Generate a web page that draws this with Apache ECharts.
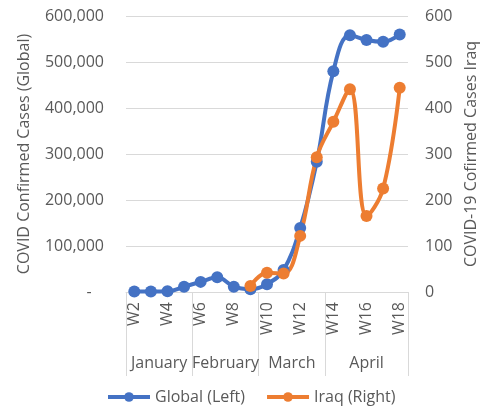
<!DOCTYPE html>
<html>
<head>
<meta charset="utf-8">
<script src="https://cdn.jsdelivr.net/npm/echarts@6/dist/echarts.min.js"></script>
<style>
  html, body { margin: 0; padding: 0; background: #fff; }
  #chart { width: 481px; height: 411px; }
</style>
</head>
<body>
<div id="chart"></div>
<script>
var weeks = ['W2', 'W3', 'W4', 'W5', 'W6', 'W7', 'W8', 'W9', 'W10', 'W11', 'W12', 'W13', 'W14', 'W15', 'W16', 'W17', 'W18'];
var months = ['January', 'February', 'March', 'April'];
var monthSpans = [4, 4, 4, 5];
var globalCases = [1000, 1000, 1500, 11500, 22000, 32000, 11500, 6000, 17000, 48000, 139000, 283000, 480000, 558000, 548000, 544000, 560000];
var iraqCases = [null, null, null, null, null, null, null, 13, 42, 40, 122, 293, 370, 441, 165, 225, 444];

var font = 'Open Sans';
var fontSize = 16;
var textColor = '#595959';
var gridColor = '#d9d9d9';

// month boundaries / centres on a 0..17 scale
var bounds = [0];
var centres = [];
monthSpans.forEach(function (s, i) {
	centres.push(bounds[i] + s / 2);
	bounds.push(bounds[i] + s);
});

var chart = echarts.init(document.getElementById('chart'));

var option = {
	backgroundColor: '#fff',
	animation: false,
	textStyle: { fontFamily: font },
	legend: {
		top: 384,
		left: 101,
		itemWidth: 42,
		itemHeight: 12,
		itemGap: 20,
		lineStyle: { width: 4 },
		textStyle: { color: textColor, fontSize: fontSize, fontFamily: font },
		data: ['Global (Left)', 'Iraq (Right)']
	},
	grid: {
		left: 126,
		right: 73,
		top: 16,
		bottom: 119,
		outerBoundsMode: 'none'
	},
	xAxis: [{
		type: 'category',
		data: weeks,
		boundaryGap: true,
		position: 'bottom',
		axisLine: { lineStyle: { color: gridColor, width: 1 } },
		axisTick: { show: false },
		axisLabel: {
			interval: 1,
			rotate: 90,
			margin: 10,
			color: textColor,
			fontSize: fontSize,
			fontFamily: font
		}
	}, {
		type: 'value',
		min: 0,
		max: 17,
		position: 'bottom',
		axisLine: { show: false },
		splitLine: { show: false },
		axisTick: {
			show: true,
			customValues: bounds,
			length: 84,
			lineStyle: { color: gridColor, width: 1 }
		},
		axisLabel: {
			customValues: centres,
			margin: 63,
			color: textColor,
			fontSize: fontSize,
			fontFamily: font,
			formatter: function (v) {
				var i = centres.indexOf(v);
				return i >= 0 ? months[i] : '';
			}
		}
	}],
	yAxis: [{
		type: 'value',
		min: 0,
		max: 600000,
		interval: 100000,
		name: 'COVID Confirmed Cases (Global)',
		nameLocation: 'middle',
		nameGap: 94,
		nameTextStyle: { color: textColor, fontSize: fontSize, fontFamily: font },
		axisLine: { show: false },
		axisTick: { show: false },
		splitLine: { lineStyle: { color: gridColor, width: 1 } },
		axisLabel: {
			margin: 22,
			color: textColor,
			fontSize: fontSize,
			fontFamily: font,
			formatter: function (v) {
				return v === 0 ? '-   ' : v.toLocaleString('en-US');
			}
		}
	}, {
		type: 'value',
		min: 0,
		max: 600,
		interval: 100,
		position: 'right',
		name: 'COVID-19 Cofirmed Cases Iraq',
		nameLocation: 'middle',
		nameGap: 54,
		nameRotate: 90,
		nameTextStyle: { color: textColor, fontSize: fontSize, fontFamily: font },
		axisLine: { show: false },
		axisTick: { show: false },
		splitLine: { show: false },
		axisLabel: {
			margin: 17,
			color: textColor,
			fontSize: fontSize,
			fontFamily: font
		}
	}],
	series: [{
		name: 'Global (Left)',
		type: 'line',
		xAxisIndex: 0,
		yAxisIndex: 0,
		data: globalCases,
		smooth: 0.4,
		symbol: 'circle',
		symbolSize: 12,
		showAllSymbol: true,
		lineStyle: { color: '#4472c4', width: 4 },
		itemStyle: { color: '#4472c4' }
	}, {
		name: 'Iraq (Right)',
		type: 'line',
		xAxisIndex: 0,
		yAxisIndex: 1,
		data: iraqCases,
		smooth: 0.4,
		symbol: 'circle',
		symbolSize: 12,
		showAllSymbol: true,
		lineStyle: { color: '#ed7d31', width: 4 },
		itemStyle: { color: '#ed7d31' }
	}]
};

chart.setOption(option);

window.onresize = function () {
	chart.resize();
};
</script>
</body>
</html>
